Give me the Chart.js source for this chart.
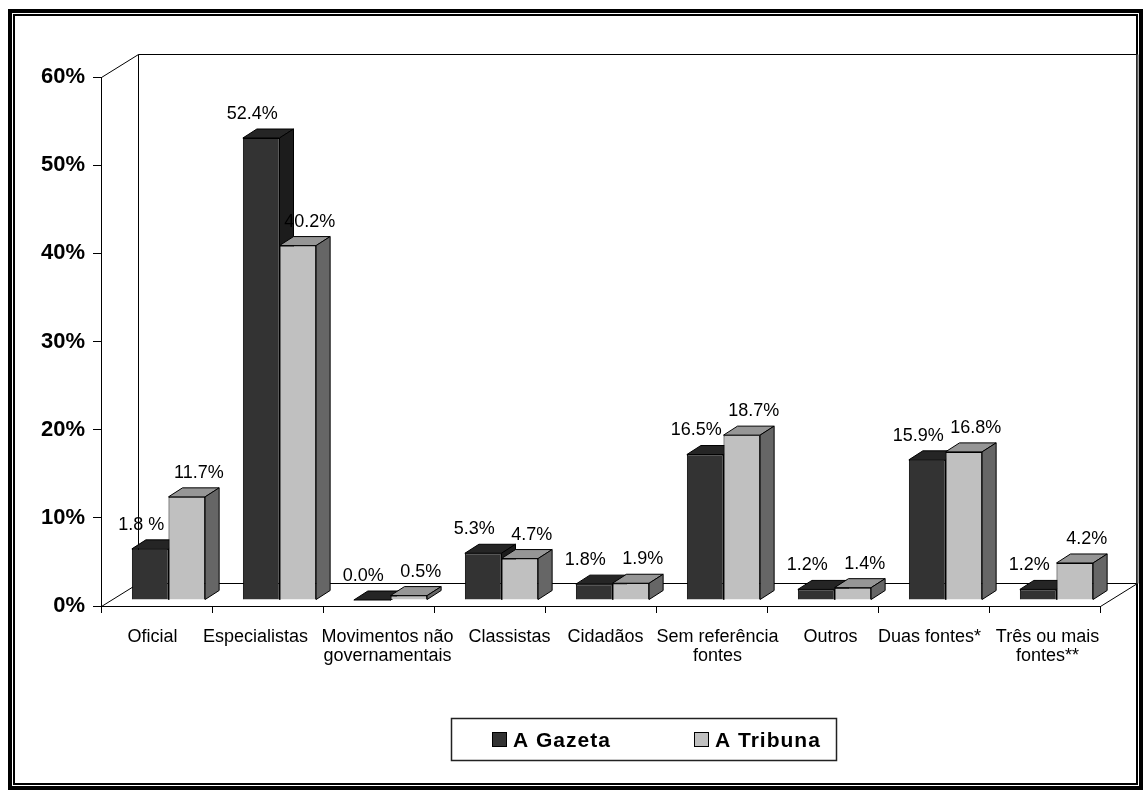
<!DOCTYPE html>
<html>
<head>
<meta charset="utf-8">
<script src="https://cdn.jsdelivr.net/npm/chart.js@4.4.1/dist/chart.umd.min.js"></script>
<style>
  html, body { margin: 0; padding: 0; background: #fff; }
  canvas { display: block; }
</style>
</head>
<body>
<canvas id="chart" width="1144" height="790"></canvas>
<script>
// --- DATA ---
const categories = [
    'Oficial', 'Especialistas', ['Movimentos não', 'governamentais'], 'Classistas', 'Cidadãos',
    ['Sem referência', 'fontes'], 'Outros', 'Duas fontes*', ['Três ou mais', 'fontes**']
];
const seriesNames = ['A Gazeta', 'A Tribuna'];
// bar heights as drawn in the picture (first bar is drawn near 5.8 although labelled 1.8 %)
const gazetaValues = [5.8, 52.4, 0.0, 5.3, 1.8, 16.5, 1.2, 15.9, 1.2];
const tribunaValues = [11.7, 40.2, 0.5, 4.7, 1.9, 18.7, 1.4, 16.8, 4.2];
const gazetaLabels = ['1.8 %', '52.4%', '0.0%', '5.3%', '1.8%', '16.5%', '1.2%', '15.9%', '1.2%'];
const tribunaLabels = ['11.7%', '40.2%', '0.5%', '4.7%', '1.9%', '18.7%', '1.4%', '16.8%', '4.2%'];
const yTicks = [0, 10, 20, 30, 40, 50, 60];

// --- STYLE ---
const FONT = "'Liberation Sans', Arial, sans-serif";
const faces = [
    { front: '#333333', top: '#252525', side: '#1c1c1c' },
    { front: '#c0c0c0', top: '#969696', side: '#666666' }
];
const WALL = { x: 37, y: -23 };      // depth of the floor / back wall
const BAR_SHIFT = { x: 12, y: -6 };  // bars sit in the middle of the depth
const BAR_DEPTH = { x: 14, y: -9 };
const LABEL_DX = [-9, 12];
const LABEL_DY = -24;
// the original category labels are not exactly centred on their slots
const CAT_NUDGE = [-4, -12, 9, 20, 5, 6, 8, -4, 3];

Chart.defaults.font.family = FONT;
Chart.defaults.color = '#000';

function poly(ctx, pts, fill) {
    ctx.beginPath();
    ctx.moveTo(pts[0][0], pts[0][1]);
    for (let i = 1; i < pts.length; i++) ctx.lineTo(pts[i][0], pts[i][1]);
    ctx.closePath();
    ctx.fillStyle = fill;
    ctx.fill();
    ctx.stroke();
}

const fake3d = {
    id: 'fake3d',
    beforeDraw(chart) {
        const ctx = chart.ctx;
        ctx.save();
        ctx.fillStyle = '#fff';
        ctx.fillRect(0, 0, chart.width, chart.height);
        // double frame
        ctx.strokeStyle = '#000';
        ctx.lineWidth = 4;
        ctx.strokeRect(10, 11, 1131, 777);
        ctx.lineWidth = 2;
        ctx.strokeRect(14, 15, 1123, 769);
        ctx.restore();
    },
    beforeDatasetsDraw(chart) {
        const ctx = chart.ctx;
        const { left, right, top, bottom } = chart.chartArea;
        const l = Math.round(left) + 0.5, r = Math.round(right) + 0.5;
        const t = Math.round(top) + 0.5, b = Math.round(bottom) + 0.5;
        ctx.save();
        ctx.lineWidth = 1;
        ctx.strokeStyle = '#000';
        ctx.beginPath();
        ctx.moveTo(l, t);
        ctx.lineTo(l + WALL.x, t + WALL.y);
        ctx.lineTo(r + WALL.x, t + WALL.y);
        ctx.moveTo(l + WALL.x, t + WALL.y);
        ctx.lineTo(l + WALL.x, b + WALL.y);
        ctx.lineTo(r + WALL.x, b + WALL.y);
        ctx.lineTo(r, b);
        ctx.moveTo(l, b);
        ctx.lineTo(l + WALL.x, b + WALL.y);
        ctx.stroke();
        ctx.strokeStyle = '#555';
        ctx.lineWidth = 2;
        ctx.beginPath();
        ctx.moveTo(r + WALL.x, t + WALL.y);
        ctx.lineTo(r + WALL.x, b + WALL.y);
        ctx.stroke();
        ctx.restore();
    },
    // bars are drawn below, category by category, so faces overlap the right way
    beforeDatasetDraw() {
        return false;
    },
    afterDatasetsDraw(chart) {
        const ctx = chart.ctx;
        const metas = chart.data.datasets.map((ds, i) => chart.getDatasetMeta(i));
        ctx.save();
        ctx.translate(BAR_SHIFT.x, BAR_SHIFT.y);
        categories.forEach((c, j) => {
            metas.forEach((meta, i) => {
                const el = meta.data[j];
                const f = faces[i];
                el.draw(ctx);
                const { x, y, base, width } = el.getProps(['x', 'y', 'base', 'width'], true);
                const x0 = x - width / 2, x1 = x + width / 2;
                ctx.lineWidth = 1;
                ctx.strokeStyle = '#000';
                poly(ctx, [[x0, y], [x1, y], [x1 + BAR_DEPTH.x, y + BAR_DEPTH.y], [x0 + BAR_DEPTH.x, y + BAR_DEPTH.y]], f.top);
                poly(ctx, [[x1, y], [x1 + BAR_DEPTH.x, y + BAR_DEPTH.y], [x1 + BAR_DEPTH.x, base + BAR_DEPTH.y], [x1, base]], f.side);
            });
        });
        ctx.restore();

        // value labels
        ctx.save();
        ctx.font = '18px ' + FONT;
        ctx.fillStyle = '#000';
        ctx.textAlign = 'center';
        ctx.textBaseline = 'middle';
        chart.data.datasets.forEach((ds, i) => {
            metas[i].data.forEach((el, j) => {
                ctx.fillText(ds.valueLabels[j], el.x + BAR_SHIFT.x + LABEL_DX[i], el.y + BAR_SHIFT.y + LABEL_DY);
            });
        });
        ctx.restore();
    },
    afterDraw(chart) {
        const ctx = chart.ctx;
        // category labels under the front edge of the floor
        const xs = chart.scales.x;
        ctx.save();
        ctx.font = '18px ' + FONT;
        ctx.fillStyle = '#000';
        ctx.textAlign = 'center';
        ctx.textBaseline = 'middle';
        categories.forEach((c, i) => {
            const lines = Array.isArray(c) ? c : [c];
            const px = xs.getPixelForTick(i) + CAT_NUDGE[i];
            lines.forEach((line, k) => ctx.fillText(line, px, xs.top + 31 + k * 19.5));
        });
        ctx.restore();

        // legend with a box
        ctx.save();
        ctx.strokeStyle = '#222';
        ctx.lineWidth = 1.5;
        ctx.strokeRect(451.5, 718.5, 385, 42);
        ctx.font = 'bold 21px ' + FONT;
        ctx.letterSpacing = '1px';
        ctx.textBaseline = 'alphabetic';
        ctx.textAlign = 'left';
        const itemX = [492, 694];
        chart.data.datasets.forEach((ds, i) => {
            ctx.fillStyle = ds.backgroundColor;
            ctx.fillRect(itemX[i] + 0.5, 732.5, 14, 14);
            ctx.lineWidth = 1;
            ctx.strokeStyle = '#000';
            ctx.strokeRect(itemX[i] + 0.5, 732.5, 14, 14);
            ctx.fillStyle = '#000';
            ctx.fillText(ds.label, itemX[i] + 21, 747);
        });
        ctx.restore();
    }
};

new Chart(document.getElementById('chart'), {
    type: 'bar',
    data: {
        labels: categories,
        datasets: [
            {
                label: seriesNames[0],
                data: gazetaValues,
                valueLabels: gazetaLabels,
                backgroundColor: faces[0].front,
                borderColor: '#000',
                borderWidth: 1
            },
            {
                label: seriesNames[1],
                data: tribunaValues,
                valueLabels: tribunaLabels,
                backgroundColor: faces[1].front,
                borderColor: '#000',
                borderWidth: 1
            }
        ]
    },
    options: {
        responsive: false,
        animation: false,
        devicePixelRatio: 1,
        events: [],
        layout: { padding: { top: 77, right: 44, left: 0, bottom: 0 } },
        datasets: {
            bar: { categoryPercentage: 0.66, barPercentage: 1.0, clip: false }
        },
        plugins: {
            legend: { display: false },
            tooltip: { enabled: false }
        },
        scales: {
            x: {
                grid: { display: true, drawOnChartArea: false, drawTicks: true, tickLength: 7, color: '#000', offset: true },
                border: { display: true, color: '#000', width: 1 },
                ticks: { display: false, autoSkip: false, maxRotation: 0 },
                afterFit(scale) { scale.height = 184; }
            },
            y: {
                min: yTicks[0],
                max: yTicks[yTicks.length - 1],
                afterBuildTicks(scale) { scale.ticks = yTicks.map(v => ({ value: v })); },
                grid: { display: true, drawOnChartArea: false, drawTicks: true, tickLength: 8, color: '#000' },
                border: { display: true, color: '#000', width: 1 },
                ticks: {
                    padding: 8,
                    font: { size: 22, weight: 'bold' },
                    color: '#000',
                    callback: v => v + '%'
                },
                afterFit(scale) { scale.width = 101; }
            }
        }
    },
    plugins: [fake3d]
});
</script>
</body>
</html>
